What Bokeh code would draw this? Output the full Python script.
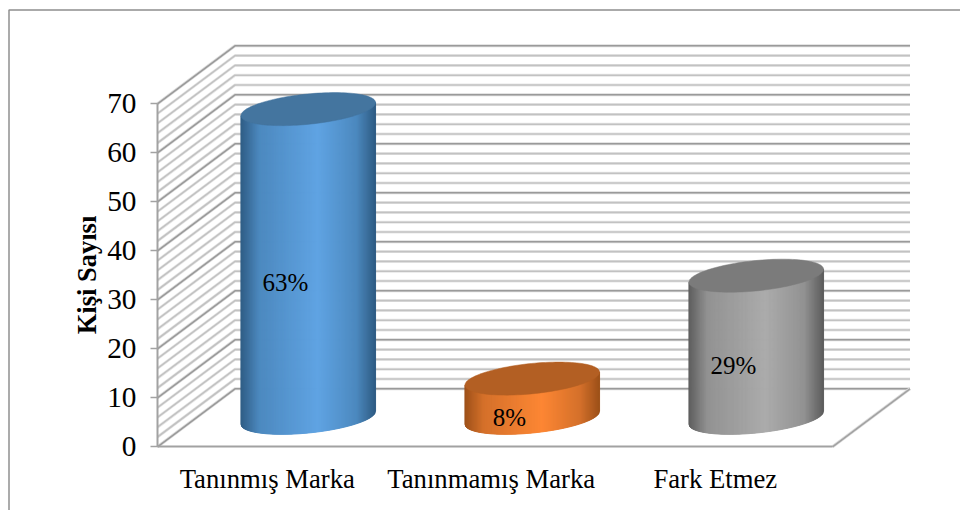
import numpy as np
from bokeh.core.properties import value
from bokeh.embed import file_html
from bokeh.models import FixedTicker, Range1d
from bokeh.plotting import figure
from bokeh.resources import INLINE

# Survey results
categories = ["Tanınmış Marka", "Tanınmamış Marka", "Fark Etmez"]
people = [63, 8, 29]
share_labels = ["63%", "8%", "29%"]
axis_title = "Kişi Sayısı"
y_ticks = [0, 10, 20, 30, 40, 50, 60, 70]
wall_steps = list(range(0, 72, 2))

# Per-series shading: edge, mid shoulder, highlight, top cap
blue_shades = ["#2f5c84", "#4c89bf", "#5fa3e3", "#44759f"]
orange_shades = ["#9d5019", "#d4702a", "#fd8633", "#b35f23"]
gray_shades = ["#5d5d5d", "#929292", "#ababab", "#7b7b7b"]
series_shades = [blue_shades, orange_shades, gray_shades]

# Canvas scale: one value unit and one category slot, in screen pixels
W, H = 960, 510
X0, Y0 = 157.0, 446.3
PX_PER_UNIT = 4.9
PX_PER_SLOT = 224.0
FLOOR_END = 675.0 / PX_PER_SLOT
DEPTH_X, DEPTH_Y = 77.5, 58.0
RADIUS_X = 67.3
TILT_Y = 6.5
SWEEP_Y = 15.2

dx = DEPTH_X / PX_PER_SLOT
dy = DEPTH_Y / PX_PER_UNIT


def px_x(px):
    return (px - X0) / PX_PER_SLOT


def px_y(py):
    return (Y0 - py) / PX_PER_UNIT


p = figure(
    width=W, height=H, output_backend="svg", toolbar_location=None,
    x_range=Range1d(px_x(0), px_x(W)), y_range=Range1d(px_y(H), px_y(0)),
    min_border=0, min_border_left=0, min_border_right=0,
    min_border_top=0, min_border_bottom=0,
    background_fill_color="white", border_fill_color="white",
)
p.outline_line_color = None
p.grid.visible = False

# Frame around the chart: only the left and top edges are on the page
p.line([px_x(8.5), px_x(8.5), px_x(W)], [px_y(H), px_y(9.5), px_y(9.5)],
       line_color="#8f8f8f", line_width=1.5)

# Side wall and back wall rules: a pale halo under a darker core
for step in wall_steps:
    major = step % 10 == 0
    halo = "#dcdcdc" if major else "#e8e8e8"
    core = "#9a9a9a" if major else "#c2c2c2"
    path_x = [0, dx, FLOOR_END + dx]
    path_y = [step, step + dy, step + dy]
    p.line(path_x, path_y, line_color=halo, line_width=3)
    p.line(path_x, path_y, line_color=core, line_width=1.6)

# Floor outline
p.line([FLOOR_END, FLOOR_END + dx], [0, dy], line_color="#dcdcdc", line_width=3)
p.line([FLOOR_END, FLOOR_END + dx], [0, dy], line_color="#a2a2a2", line_width=1.6)


def shade(shades, s):
    """Colour across the cylinder, s running from -1 at the left to 1 at the right."""
    stops = [-1.0, -0.72, 0.15, 0.72, 1.0]
    rgb = [[int(c[i:i + 2], 16) for i in (1, 3, 5)] for c in shades[:3]]
    seq = [rgb[0], rgb[1], rgb[2], rgb[1], rgb[0]]
    vals = [int(round(np.interp(s, stops, [row[k] for row in seq]))) for k in range(3)]
    return "#%02x%02x%02x" % tuple(vals)


# Cylinders: a shaded body built from thin strips, then the lid
for slot, (val, shades) in enumerate(zip(people, series_shades)):
    cx = slot + 0.5 + dx / 2
    cy = dy / 2
    rx = RADIUS_X / PX_PER_SLOT
    tilt = TILT_Y / PX_PER_UNIT
    sweep = SWEEP_Y / PX_PER_UNIT

    edges = np.linspace(-1, 1, 136)
    xs, ys, colours = [], [], []
    for s0, s1 in zip(edges[:-1], edges[1:]):
        low0 = cy + tilt * s0 - sweep * np.sqrt(max(0.0, 1 - s0 ** 2))
        low1 = cy + tilt * s1 - sweep * np.sqrt(max(0.0, 1 - s1 ** 2))
        xs.append([cx + rx * s0, cx + rx * s1, cx + rx * s1, cx + rx * s0])
        ys.append([low0, low1, cy + val + tilt * s1, cy + val + tilt * s0])
        colours.append(shade(shades, (s0 + s1) / 2))
    p.patches(xs, ys, fill_color=colours, line_color=colours, line_width=1)

    t = np.linspace(0, 2 * np.pi, 120)
    p.patch(cx + rx * np.cos(t), cy + val + tilt * np.cos(t) + sweep * np.sin(t),
            fill_color=shades[3], line_color=shades[3], line_width=0.5)

    p.text([slot + 0.5 + 16 / PX_PER_SLOT], [val / 2], text=[share_labels[slot]],
           text_font=value("Liberation Serif"), text_font_size="25px", text_color="#000000",
           text_align="center", text_baseline="middle", y_offset=-10)

# Value axis on the front edge of the side wall
ax = p.yaxis[0]
ax.fixed_location = 0
ax.bounds = (y_ticks[0], y_ticks[-1])
ax.ticker = FixedTicker(ticks=y_ticks)
ax.axis_line_color = "#a2a2a2"
ax.axis_line_width = 2
ax.major_tick_line_color = "#a2a2a2"
ax.major_tick_line_width = 1.5
ax.major_tick_in = 0
ax.major_tick_out = 7
ax.minor_tick_line_color = None
ax.major_label_text_font = "Liberation Serif"
ax.major_label_text_font_size = "29.3px"
ax.major_label_text_color = "#000000"
ax.major_label_standoff = 14

# Category axis on the front edge of the floor
bx = p.xaxis[0]
centres = [i + 0.49 for i in range(len(categories))]
bx.fixed_location = 0
bx.bounds = (0, FLOOR_END)
bx.ticker = FixedTicker(ticks=centres)
bx.major_label_overrides = {c: n for c, n in zip(centres, categories)}
bx.axis_line_color = "#a2a2a2"
bx.axis_line_width = 2
bx.major_tick_line_color = None
bx.minor_tick_line_color = None
bx.major_tick_in = 0
bx.major_tick_out = 0
bx.major_label_text_font = "Liberation Serif"
bx.major_label_text_font_size = "26.7px"
bx.major_label_text_color = "#000000"
bx.major_label_standoff = 17

# Value axis title, set along the axis
p.text([px_x(86)], [px_y(274.5)], text=[axis_title], angle=np.pi / 2,
       text_font=value("Liberation Serif"), text_font_style="bold", text_font_size="26.5px",
       text_color="#000000", text_align="center", text_baseline="middle")

open("out.html", "w").write(file_html(p, INLINE))
